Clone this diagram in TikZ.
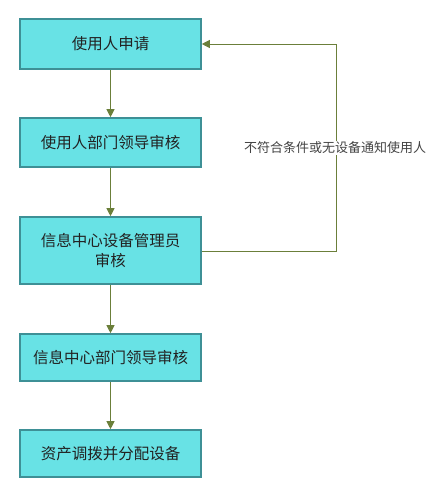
\documentclass[tikz,border=0pt]{standalone}
\usepackage{fontspec}
\setmainfont{Noto Sans CJK SC}
\usetikzlibrary{arrows.meta}
\definecolor{boxfill}{HTML}{68E2E5}
\definecolor{boxline}{HTML}{3E9096}
\definecolor{arrowc}{HTML}{6B7F3A}
\definecolor{txt}{HTML}{222222}
\begin{document}
\begin{tikzpicture}[x=1pt,y=-1pt,
  stepbox/.style={draw=boxline,line width=1.6pt,fill=boxfill,minimum width=181pt,inner sep=0pt,align=center,font=\fontsize{15.5}{20}\selectfont,text=txt},
  conn/.style={draw=arrowc,line width=1pt,-{Triangle[length=8pt,width=8pt]}}]
\useasboundingbox (0,0) rectangle (435,490);
\node[stepbox,minimum height=50pt] (a) at (110.5,44) {使用人申请};
\node[stepbox,minimum height=49pt] (b) at (110.5,142.5) {使用人部门领导审核};
\node[stepbox,minimum height=67pt] (c) at (110.5,250.5) {信息中心设备管理员\\审核};
\node[stepbox,minimum height=47pt] (d) at (110.5,357.5) {信息中心部门领导审核};
\node[stepbox,minimum height=47pt] (e) at (110.5,453.5) {资产调拨并分配设备};
\draw[conn] (a) -- (b);
\draw[conn] (b) -- (c);
\draw[conn] (c) -- (d);
\draw[conn] (d) -- (e);
\coordinate (r1) at (336.5,251);
\coordinate (r2) at (336.5,44);
\draw[conn] (c.east |- r1) -- (r1) -- (r2) -- (a.east |- r2);
\node[fill=white,inner sep=1pt,font=\fontsize{13}{15}\selectfont,text=txt!85] (lbl) at (335,148) {不符合条件或无设备通知使用人};
\end{tikzpicture}
\end{document}
